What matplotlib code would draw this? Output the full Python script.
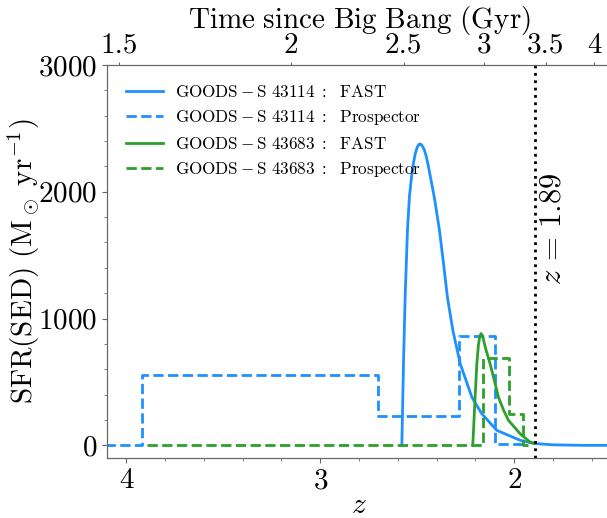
import numpy as np
import matplotlib
matplotlib.use("Agg")
import matplotlib.pyplot as plt
from matplotlib.ticker import MultipleLocator

plt.rcParams['font.family'] = 'serif'
plt.rcParams['font.serif'] = ['cmr10']
plt.rcParams['mathtext.fontset'] = 'cm'
plt.rcParams['axes.formatter.use_mathtext'] = True
plt.rcParams['axes.unicode_minus'] = False

# GOODS-S 43114, FAST (z, SFR)
fast1_z = [2.579, 2.5705, 2.562, 2.550, 2.540, 2.528, 2.519, 2.510, 2.500, 2.492,
           2.485, 2.477, 2.464, 2.455, 2.445, 2.412, 2.385, 2.364, 2.344, 2.316,
           2.278, 2.218, 2.167, 2.089, 1.969, 1.90, 1.80, 1.65, 1.45]
fast1_sfr = [0, 645, 1170, 1697, 1960, 2130, 2225, 2300, 2350, 2372,
             2378, 2370, 2335, 2290, 2225, 1960, 1697, 1434, 1170, 908,
             645, 381, 250, 118, 40, 15, 4, 0, 0]

# GOODS-S 43114, Prospector (bin edges in z, SFR per bin)
prosp1_edges = [1.956, 2.098, 2.283, 2.704, 3.918, 4.2]
prosp1_sfr = [8, 865, 228, 555, 0]

# GOODS-S 43683, FAST
fast2_z = [2.213, 2.201, 2.192, 2.184, 2.177, 2.170, 2.162, 2.148, 2.124, 2.100,
           2.081, 2.055, 2.029, 1.969, 1.918, 1.89]
fast2_sfr = [0, 381, 645, 790, 860, 882, 860, 770, 645, 500,
             381, 280, 197, 92, 26, 14]

# GOODS-S 43683, Prospector
prosp2_edges = [1.93, 1.956, 2.024, 2.161, 3.91]
prosp2_sfr = [0, 250, 688, 0]

z_obs = 1.89
age_ticks = [1.5, 2, 2.5, 3, 3.5, 4]
age_labels = ['1.5', '2', '2.5', '3', '3.5', '4']

# flat LCDM, H0=70, Om=0.3 -> redshift at a given age
H0, Om = 70.0, 0.3
A = 2.0 / (3.0 * np.sqrt(1 - Om)) * 977.8 / H0
B = np.sqrt((1 - Om) / Om)
def z_of_age(t):
    return (np.sinh(np.asarray(t) / A) / B) ** (-2.0 / 3.0) - 1

blue = '#1E90FF'
green = '#2ca02c'
spine_c = '#666666'

fig = plt.figure(figsize=(6.07, 5.18), dpi=100)
ax = fig.add_axes([107 / 607, 60 / 518, 504 / 607, 393 / 518])

ax.plot(fast1_z, fast1_sfr, color=blue, lw=2, label=r'$\rm GOODS-S\ 43114\ :\ \ FAST$')
ax.step(prosp1_edges, prosp1_sfr + [prosp1_sfr[-1]], where='post', color=blue, lw=2,
        ls='--', label=r'$\rm GOODS-S\ 43114\ :\ \ Prospector$')
ax.plot(fast2_z, fast2_sfr, color=green, lw=2, label=r'$\rm GOODS-S\ 43683\ :\ \ FAST$')
ax.step(prosp2_edges, prosp2_sfr + [prosp2_sfr[-1]], where='post', color=green, lw=2,
        ls='--', label=r'$\rm GOODS-S\ 43683\ :\ \ Prospector$')
ax.axvline(z_obs, color='black', ls=':', lw=2)
ax.text(1.80, 1710, r'$z\,=\,1.89$', rotation=90, ha='center', va='center', fontsize=22)

ax.set_xlim(4.1, 1.5)
ax.set_ylim(-100, 3000)
ax.set_yticks([0, 1000, 2000, 3000])
ax.set_xticks([4, 3, 2])
ax.xaxis.set_minor_locator(MultipleLocator(0.2))
ax.yaxis.set_minor_locator(MultipleLocator(200))
ax.set_xlabel(r'$z$', fontsize=21, labelpad=-1)
ax.set_ylabel(r'$\rm SFR(SED)\ (M_\odot\ yr^{-1})$', fontsize=21)
ax.yaxis.set_label_coords(-0.128, 0.5)
ax.tick_params(which='major', labelsize=21, length=3.5, width=0.8, color=spine_c, direction='out')
ax.tick_params(which='minor', length=2, width=0.6, color=spine_c, direction='out')
for s in ax.spines.values():
    s.set_color(spine_c)

ax2 = ax.twiny()
ax2.set_xlim(ax.get_xlim())
ax2.set_xticks(z_of_age(age_ticks))
ax2.set_xticklabels(age_labels)
ax2.tick_params(labelsize=21, length=2.5, width=0.8, color=spine_c, pad=2)
ax2.set_xlabel(r'$\rm Time\ since\ Big\ Bang\ (Gyr)$', fontsize=21, labelpad=3)
for s in ax2.spines.values():
    s.set_color(spine_c)

ax.legend(loc='upper left', frameon=False, fontsize=12.3, handlelength=2.2,
          handletextpad=0.7, labelspacing=0.5, borderaxespad=0.7)

fig.savefig('out.png', dpi=100)
